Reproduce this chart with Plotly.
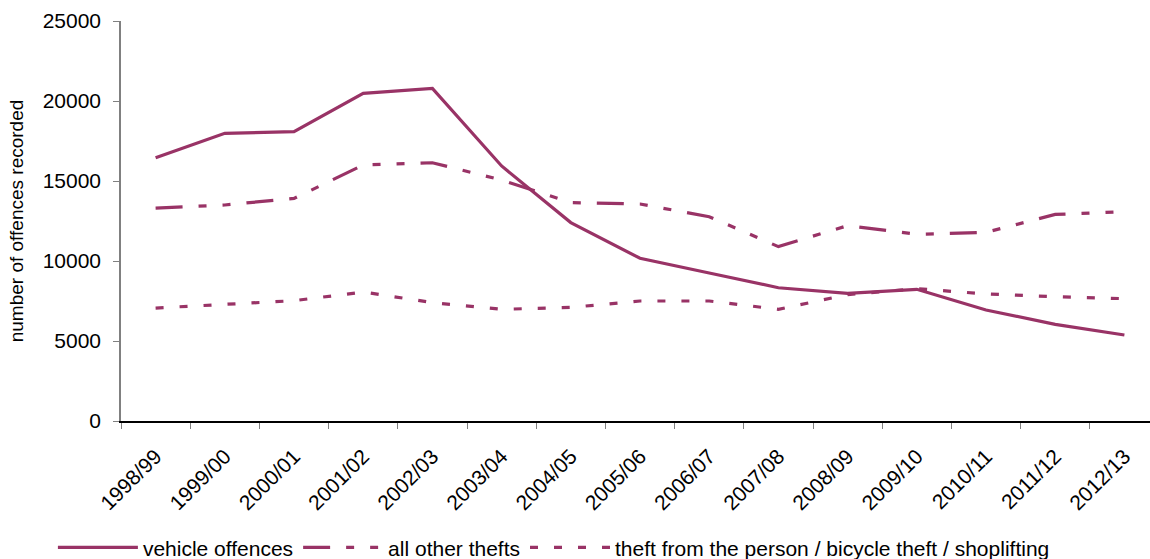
import plotly.graph_objects as go

years = ["1998/99", "1999/00", "2000/01", "2001/02", "2002/03", "2003/04", "2004/05",
         "2005/06", "2006/07", "2007/08", "2008/09", "2009/10", "2010/11", "2011/12", "2012/13"]

vehicle_offences = [16450, 17980, 18080, 20480, 20790, 15940, 12400, 10170, 9250, 8330,
                    7980, 8230, 6940, 6040, 5375]
all_other_thefts = [13310, 13500, 13910, 16000, 16140, 15060, 13650, 13560, 12770, 10900,
                    12210, 11670, 11790, 12910, 13080]
theft_person = [7060, 7310, 7520, 8060, 7400, 6980, 7100, 7500, 7500, 6980,
                7900, 8270, 7940, 7770, 7645]

COLOR = "#993366"
FONT = "Liberation Sans, Arial, sans-serif"

fig = go.Figure()
fig.add_trace(go.Scatter(x=years, y=vehicle_offences, mode="lines", name="vehicle offences",
                         line=dict(color=COLOR, width=3.2)))
fig.add_trace(go.Scatter(x=years, y=all_other_thefts, mode="lines", name="all other thefts",
                         line=dict(color=COLOR, width=3.2, dash="27px,16px,8px,16px,8px,16px")))
fig.add_trace(go.Scatter(x=years, y=theft_person, mode="lines",
                         name="theft from the person / bicycle theft / shoplifting",
                         line=dict(color=COLOR, width=3.2, dash="8px,16px")))

fig.update_layout(
    width=1150, height=559,
    margin=dict(l=121, r=0, t=21, b=138, autoexpand=False),
    paper_bgcolor="white", plot_bgcolor="white",
    font=dict(family=FONT, size=21, color="black"),
    showlegend=True,
    legend=dict(orientation="h", xref="container", yref="container",
                x=0.046, y=0.02, xanchor="left", yanchor="middle",
                font=dict(size=21), itemwidth=80, tracegroupgap=0,
                bgcolor="rgba(0,0,0,0)"),
)
fig.update_xaxes(type="category", range=[-0.5, 14.37], tickangle=-45,
                 showline=True, linecolor="black", linewidth=1.5,
                 ticks="outside", tickson="boundaries", ticklen=6, tickcolor="#808080",
                 showgrid=False, zeroline=False, tickfont=dict(size=21),
                 ticklabelstandoff=13)
fig.update_yaxes(range=[0, 25000], tickvals=[0, 5000, 10000, 15000, 20000, 25000],
                 showline=True, linecolor="#808080", linewidth=1.5,
                 ticks="outside", ticklen=6, tickcolor="#808080",
                 showgrid=False, zeroline=False, tickformat="d", ticklabelstandoff=8,
                 title=dict(text="number of offences recorded", font=dict(size=19), standoff=14),
                 tickfont=dict(size=21))

fig.write_html("out.html")
